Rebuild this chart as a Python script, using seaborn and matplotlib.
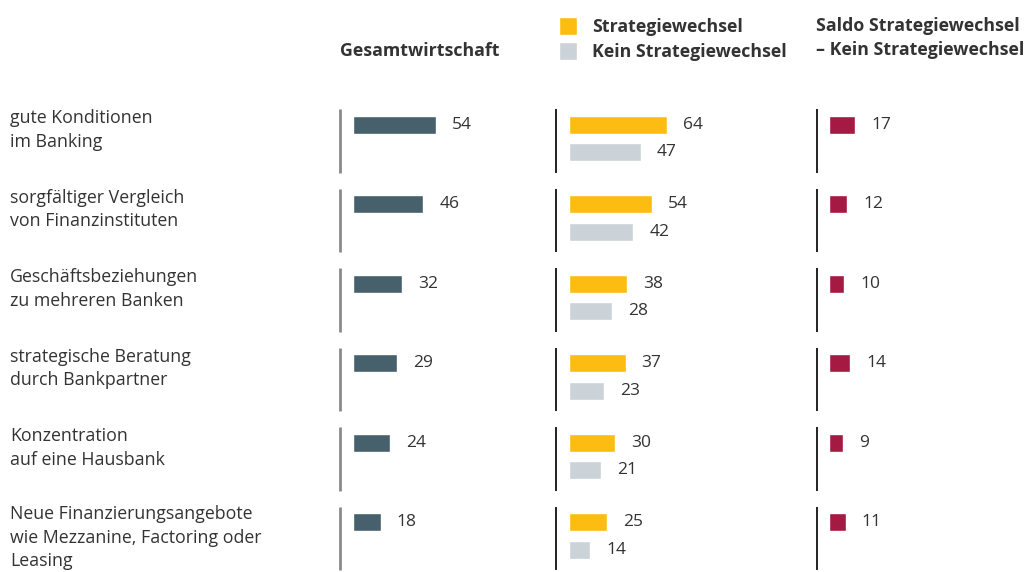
import numpy as np
import pandas as pd
import matplotlib
matplotlib.use("Agg")
import matplotlib.pyplot as plt
import seaborn as sns
from matplotlib.transforms import blended_transform_factory

# ---------------- data ----------------
categories = [
    "gute Konditionen\nim Banking",
    "sorgfältiger Vergleich\nvon Finanzinstituten",
    "Geschäftsbeziehungen\nzu mehreren Banken",
    "strategische Beratung\ndurch Bankpartner",
    "Konzentration\nauf eine Hausbank",
    "Neue Finanzierungsangebote\nwie Mezzanine, Factoring oder\nLeasing",
]
gesamt = [54, 46, 32, 29, 24, 18]
strategiewechsel = [64, 54, 38, 37, 30, 25]
kein_strategiewechsel = [47, 42, 28, 23, 21, 14]
saldo = [17, 12, 10, 14, 9, 11]

header_left = "Gesamtwirtschaft"
series_mid = ["Strategiewechsel", "Kein Strategiewechsel"]
header_right = "Saldo Strategiewechsel\n– Kein Strategiewechsel"

# ---------------- style ----------------
sns.set_theme(style="white")
plt.rcParams["font.family"] = ["Open Sans", "DejaVu Sans"]
TXT = "#333333"
C_GES = "#46606C"
C_YEL = "#FDBC11"
C_GRY = "#CBD2D8"
C_RED = "#A41A42"

W, H = 1029, 572
fig = plt.figure(figsize=(W / 100, H / 100), dpi=100)

PXU = 1.53          # pixels per value unit
ROW = 79.5          # pixels per category
Y0 = 138.5          # pixel y of category 0 centre
TOP = 100           # pixel top of plotting axes
ylim = ((H - Y0) / ROW, (TOP - Y0) / ROW)
LINE_PX = 22.0      # label line pitch in pixels

def make_ax(left_px, width_px, offset_px=13):
    ax = fig.add_axes([left_px / W, 0, width_px / W, (H - TOP) / H])
    xmin = -offset_px / PXU
    ax.set_xlim(xmin, xmin + width_px / PXU)
    return ax

keys = [f"c{i}" for i in range(len(categories))]

def long_df(a, b, names):
    rows = []
    for k, va, vb in zip(keys, a, b):
        rows.append({"cat": k, "series": names[0], "value": va})
        rows.append({"cat": k, "series": names[1], "value": vb})
    return pd.DataFrame(rows)

BW = 0.68
GAP = 0.335

def draw(ax, df, names, palette, legend=False):
    sns.barplot(data=df, x="value", y="cat", hue="series", hue_order=names,
                order=keys, palette=palette, width=BW, gap=GAP, dodge=True,
                orient="h", legend=legend, ax=ax, saturation=1, err_kws={"linewidth": 0})
    ax.set_ylim(*ylim)
    ax.set_xlabel("")
    ax.set_ylabel("")
    ax.set_xticks([])
    ax.set_yticks([])
    for s in ax.spines.values():
        s.set_visible(False)

def label_bars(ax, containers):
    for c in containers:
        labs = []
        for p in c.patches:
            w = p.get_width()
            labs.append("" if not np.isfinite(w) or w == 0 else f"{w:.0f}")
        ax.bar_label(c, labels=labs, padding=11.5, fontsize=12.5, color=TXT)

def group_lines(ax, color, lw):
    tr = ax.get_yaxis_transform()
    for i in range(len(keys)):
        ax.vlines(0, i - 0.37, i + 0.43, color=color, lw=lw, transform=tr, clip_on=False)

# left panel
axL = make_ax(340, 200)
dfL = long_df(gesamt, [np.nan] * len(gesamt), ["Gesamt", "_pad"])
draw(axL, dfL, ["Gesamt", "_pad"], {"Gesamt": C_GES, "_pad": C_GES})
label_bars(axL, axL.containers[:1])
group_lines(axL, "#8a8a8a", 2.0)

# middle panel
axM = make_ax(556, 230)
dfM = long_df(strategiewechsel, kein_strategiewechsel, series_mid)
draw(axM, dfM, series_mid, {series_mid[0]: C_YEL, series_mid[1]: C_GRY}, legend=True)
label_bars(axM, axM.containers)
group_lines(axM, "#222222", 1.4)
sns.move_legend(axM, loc="upper left", bbox_to_anchor=(559 / W, 1 - 17 / H),
                bbox_transform=fig.transFigure, frameon=False, title=None,
                borderpad=0, borderaxespad=0, handlelength=1.0, handleheight=1.2,
                handletextpad=0.85, labelspacing=0.32, fontsize=12.8)
for t in axM.get_legend().get_texts():
    t.set_fontweight("bold")
    t.set_color(TXT)

# right panel
axR = make_ax(816.5, 212, offset_px=12.5)
dfR = long_df(saldo, [np.nan] * len(saldo), ["Saldo", "_pad"])
draw(axR, dfR, ["Saldo", "_pad"], {"Saldo": C_RED, "_pad": C_RED})
label_bars(axR, axR.containers[:1])
group_lines(axR, "#222222", 1.4)

# category labels in left margin (baseline of last line given)
trL = blended_transform_factory(fig.transFigure, axL.transData)
for i, lab in enumerate(categories):
    n = lab.count("\n")
    fig.text(10 / W, i - 0.17 + n * LINE_PX / ROW, lab, transform=trL, ha="left",
             va="baseline", fontsize=12.8, color=TXT, linespacing=1.4)

# headers
fig.text(340 / W, 1 - 56 / H, header_left, ha="left", va="baseline",
         fontsize=12.8, fontweight="bold", color=TXT)
fig.text(816 / W, 1 - 55 / H, header_right, ha="left", va="baseline",
         fontsize=12.8, fontweight="bold", color=TXT, linespacing=1.4)

fig.savefig("out.png", dpi=100)
